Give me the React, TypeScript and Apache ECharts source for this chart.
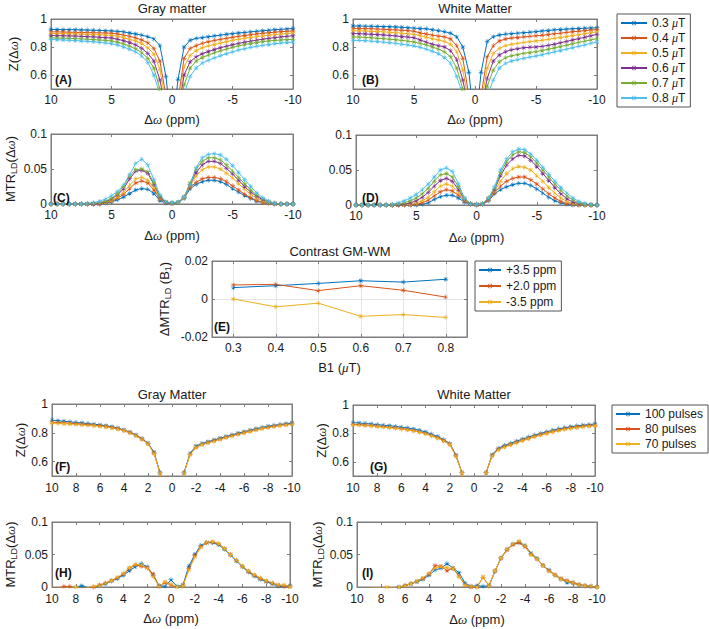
import React, { useEffect, useRef } from 'react';
import * as echarts from 'echarts';

// Frequency offsets (ppm)
const X = [10, 9.5, 9, 8.5, 8, 7.5, 7, 6.5, 6, 5.5, 5, 4.5, 4, 3.5, 3, 2.5, 2, 1.5, 1, 0.5, 0, -0.5, -1, -1.5, -2, -2.5, -3, -3.5, -4, -4.5, -5, -5.5, -6, -6.5, -7, -7.5, -8, -8.5, -9, -9.5, -10];

const B1_NAMES = ['0.3 μT', '0.4 μT', '0.5 μT', '0.6 μT', '0.7 μT', '0.8 μT'];
const PULSE_NAMES = ['100 pulses', '80 pulses', '70 pulses'];
const E_NAMES = ['+3.5 ppm', '+2.0 ppm', '-3.5 ppm'];
const B1 = [0.3, 0.4, 0.5, 0.6, 0.7, 0.8];

// (A) Gray matter Z
const A_03 = [.925,.925,.924,.924,.923,.922,.921,.92,.919,.917,.915, .912,.908,.90,.893,.885,.874,.858,.81,.59, .2, .57,.80,.848,.862,.867,.873,.879,.885,.891,.896,.90,.904,.908,.912,.916,.92,.923,.926,.929,.932];
const A_04 = [.908,.908,.907,.906,.905,.904,.903,.902,.901,.90,.898, .893,.885,.876,.865,.85,.83,.79,.70,.45, .2, .42,.72,.79,.81,.826,.838,.847,.855,.862,.87,.876,.882,.888,.893,.898,.902,.906,.909,.912,.915];
const A_05 = [.896,.896,.895,.894,.893,.892,.891,.889,.887,.885,.883, .876,.866,.855,.843,.825,.795,.75,.64,.40, .2, .38,.66,.74,.775,.795,.808,.818,.828,.838,.848,.856,.862,.868,.874,.879,.884,.888,.892,.896,.90];
const A_06 = [.882,.881,.88,.879,.878,.876,.874,.872,.87,.867,.864, .856,.845,.832,.815,.79,.755,.70,.565,.35, .2, .33,.60,.695,.73,.752,.768,.782,.795,.806,.816,.826,.834,.842,.849,.856,.862,.867,.872,.876,.88];
const A_07 = [.865,.864,.863,.862,.86,.858,.856,.853,.85,.847,.843, .834,.822,.806,.787,.76,.72,.65,.50,.32, .2, .30,.53,.65,.70,.725,.742,.758,.772,.785,.797,.808,.817,.825,.832,.838,.843,.847,.85,.853,.855];
const A_08 = [.853,.852,.85,.848,.846,.843,.84,.837,.833,.829,.824, .814,.80,.784,.765,.735,.69,.60,.46,.3, .2, .28,.47,.59,.65,.685,.705,.722,.738,.752,.765,.778,.788,.797,.805,.812,.818,.823,.828,.832,.836];

// (B) White matter Z
const B_03 = [.95,.95,.949,.948,.947,.946,.945,.943,.941,.938,.935, .932,.93,.923,.917,.91,.898,.874,.80,.62, .2, .62,.84,.874,.886,.892,.896,.899,.902,.906,.91,.914,.918,.922,.925,.928,.93,.932,.934,.936,.937];
const B_04 = [.933,.932,.931,.93,.928,.926,.924,.922,.92,.917,.913, .90,.893,.885,.878,.872,.857,.81,.72,.45, .2, .45,.73,.81,.843,.857,.864,.868,.872,.876,.88,.884,.889,.894,.899,.904,.909,.913,.917,.921,.925];
const B_05 = [.916,.915,.914,.912,.91,.908,.905,.902,.898,.894,.89, .88,.87,.86,.85,.84,.82,.767,.636,.40, .2, .40,.65,.755,.79,.81,.82,.826,.833,.838,.843,.848,.855,.862,.868,.875,.882,.888,.895,.902,.908];
const B_06 = [.896,.895,.893,.891,.889,.886,.883,.879,.875,.871,.867, .85,.835,.82,.81,.80,.774,.71,.565,.35, .2, .35,.576,.70,.743,.767,.78,.788,.795,.798,.80,.805,.812,.82,.83,.84,.85,.86,.87,.88,.89];
const B_07 = [.872,.871,.869,.866,.863,.86,.856,.852,.847,.842,.836, .826,.815,.80,.785,.765,.73,.65,.50,.32, .2, .32,.52,.636,.695,.724,.738,.746,.755,.761,.767,.775,.784,.793,.803,.813,.823,.833,.842,.851,.86];
const B_08 = [.848,.847,.845,.842,.839,.835,.831,.826,.82,.814,.807, .798,.785,.77,.752,.725,.683,.59,.46,.3, .2, .28,.45,.565,.65,.683,.70,.71,.72,.728,.736,.745,.755,.765,.775,.785,.795,.805,.815,.826,.836];

// (C) Gray matter MTR_LD
const C_03 = [0,0,0,0,0,0,0,0,0, .001,.003,.006,.01,.015,.02,.022,.021,.015,.005,.001, .001, .002,.008,.022,.028,.032,.034,.034,.032,.028,.022,.017,.012,.008,.004,.002,.001,0,0,0,0];
const C_04 = [0,0,0,0,0,0,0,0,0, .002,.004,.008,.014,.022,.03,.033,.03,.02,.007,.002, .001, .002,.009,.024,.031,.036,.038,.038,.036,.032,.026,.02,.014,.009,.005,.002,.001,0,0,0,0];
const C_05 = [0,0,0,0,0,0,0,0,.001, .002,.005,.01,.017,.027,.036,.038,.034,.023,.008,.002, .001, .002,.009,.026,.04,.049,.053,.053,.05,.044,.037,.029,.021,.014,.008,.004,.002,.001,0,0,0];
const C_06 = [0,0,0,0,0,0,0,0,.001, .003,.007,.013,.022,.036,.047,.048,.044,.028,.01,.002, .001, .002,.01,.028,.045,.056,.061,.061,.058,.051,.043,.034,.025,.017,.011,.006,.003,.001,0,0,0];
const C_07 = [0,0,0,0,0,0,0,.001,.002, .004,.008,.015,.025,.04,.049,.05,.046,.03,.011,.003, .001, .002,.01,.03,.05,.061,.066,.066,.063,.056,.047,.038,.029,.02,.013,.007,.003,.001,0,0,0];
const C_08 = [0,0,0,0,0,0,.001,.002,.004, .007,.012,.018,.027,.042,.058,.064,.056,.035,.013,.003, .002, .003,.01,.028,.052,.066,.071,.072,.07,.064,.055,.045,.035,.025,.016,.009,.004,.001,0,0,0];

// (D) White matter MTR_LD
const D_03 = [0,0,0,0,0,0,0,0,0,0,0, .001,.003,.008,.012,.014,.014,.01,.004,.001, 0, .001,.006,.016,.022,.026,.029,.031,.031,.028,.023,.017,.011,.006,.003,.001,0,0,0,0,0];
const D_04 = [0,0,0,0,0,0,0,0,0,0,.001, .003,.007,.013,.019,.022,.02,.014,.006,.001, 0, .001,.007,.018,.027,.034,.038,.04,.04,.036,.03,.023,.016,.01,.005,.002,.001,0,0,0,0];
const D_05 = [0,0,0,0,0,0,0,0,0,.001,.003, .006,.011,.019,.027,.03,.027,.018,.007,.002, .001, .002,.008,.02,.034,.045,.052,.055,.054,.05,.042,.034,.025,.017,.01,.005,.002,.001,0,0,0];
const D_06 = [0,0,0,0,0,0,0,0,.001,.003,.006, .011,.018,.027,.035,.038,.034,.022,.008,.002, .001, .002,.009,.022,.042,.057,.066,.071,.07,.064,.055,.045,.035,.025,.016,.009,.004,.002,.001,0,0];
const D_07 = [0,0,0,0,0,0,0,.001,.003,.006,.01, .016,.024,.034,.043,.045,.04,.026,.009,.002, .001, .002,.01,.024,.046,.062,.072,.076,.075,.069,.06,.05,.04,.03,.021,.013,.007,.003,.001,0,0];
const D_08 = [0,0,0,0,0,0,.001,.003,.006,.01,.015, .022,.03,.04,.05,.053,.048,.03,.01,.002, .001, .002,.01,.026,.05,.066,.076,.08,.079,.073,.064,.054,.044,.034,.025,.017,.01,.005,.002,.001,0];

// (E) Contrast GM-WM
const E_P35 = [.006, .007, .0082, .0096, .0089, .0104];
const E_P20 = [.0074, .0077, .0044, .007, .0046, .001];
const E_M35 = [0, -.0041, -.0022, -.0091, -.0082, -.0097];

// (F) Gray matter Z, pulses
const F_100 = [.888,.884,.88,.876,.872,.868,.864,.86,.855,.849,.842, .832,.82,.805,.785,.76,.728,.665,.524,.3, .2, .3,.524,.657,.708,.726,.738,.75,.762,.774,.786,.797,.808,.818,.828,.838,.846,.852,.858,.863,.868];
const F_80 = [.874,.872,.869,.866,.863,.86,.857,.853,.849,.844,.837, .828,.817,.802,.782,.757,.725,.66,.52,.3, .2, .3,.52,.65,.70,.72,.733,.745,.757,.769,.78,.792,.802,.812,.822,.831,.839,.846,.852,.857,.862];
const F_70 = [.866,.865,.863,.861,.858,.855,.852,.849,.845,.84,.834, .825,.814,.799,.779,.754,.722,.655,.52,.3, .2, .3,.52,.648,.698,.717,.73,.742,.754,.766,.777,.789,.799,.809,.819,.828,.836,.843,.849,.854,.859];

// (G) White matter Z, pulses
const G_100 = [.876,.873,.87,.866,.862,.858,.854,.849,.844,.838,.831, .822,.81,.795,.778,.756,.728,.648,.524,.3, .2, .3,.524,.65,.695,.715,.73,.745,.76,.774,.788,.8,.811,.822,.832,.84,.847,.853,.858,.862,.866];
const G_80 = [.864,.862,.859,.856,.852,.848,.844,.839,.834,.828,.821, .812,.8,.786,.77,.75,.725,.645,.524,.3, .2, .3,.524,.645,.688,.707,.722,.737,.752,.766,.78,.792,.803,.814,.824,.832,.839,.845,.85,.854,.858];
const G_70 = [.86,.858,.855,.852,.848,.844,.84,.835,.83,.824,.817, .808,.796,.782,.766,.746,.72,.64,.524,.3, .2, .3,.524,.64,.684,.703,.718,.733,.748,.762,.776,.788,.799,.81,.82,.828,.835,.841,.846,.85,.854];

// (H) Gray matter MTR_LD, pulses
const H_100 = [-.003,-.003,-.002,-.002,-.001,.002,-.001,-.001,.002,.005,.009, .013,.018,.025,.031,.036,.031,.018,.002,.001, .011, .001,.003,.032,.05,.064,.068,.068,.065,.058,.049,.04,.031,.023,.017,.012,.008,.005,.001,.001,.002];
const H_80 = [-.002,-.002,.001,.001,-.001,-.002,-.001,0,.003,.006,.01, .014,.02,.028,.034,.032,.03,.02,.001,.007, .003, -.001,.002,.028,.048,.062,.068,.069,.066,.059,.05,.041,.032,.024,.018,.013,.009,.006,.003,.001,.001];
const H_70 = [-.003,-.002,-.001,-.001,0,-.002,-.001,.001,.002,.006,.01, .015,.021,.03,.035,.034,.029,.016,.001,.008, .004, 0,.002,.026,.046,.061,.069,.07,.067,.059,.05,.041,.032,.025,.019,.014,.01,.006,.003,.003,0];

// (I) White matter MTR_LD, pulses
const I_100 = [-.003,-.003,-.002,-.002,-.002,-.001,-.001,0,.002,.005,.008, .012,.018,.026,.029,.036,.029,.022,.006,.001, .002, .001,.002,.024,.045,.058,.066,.069,.064,.052,.044,.033,.026,.018,.012,.007,.006,.003,.002,.001,0];
const I_80 = [-.003,-.003,-.002,-.002,-.002,-.002,-.001,-.001,.002,.005,.009, .013,.02,.033,.032,.025,.029,.017,.003,0, 0, .015,.002,.025,.044,.057,.065,.068,.062,.05,.043,.033,.025,.019,.013,.01,.007,.004,.002,.001,0];
const I_70 = [-.003,-.002,-.002,-.001,-.001,0,-.001,0,.002,.005,.009, .014,.021,.029,.031,.03,.028,.016,.003,.001, 0, .015,.002,.025,.045,.058,.066,.071,.063,.05,.043,.033,.024,.018,.012,.009,.006,.003,.002,.001,0];

const COLORS = ['#0072BD', '#D95319', '#EDB120', '#7E2F8E', '#77AC30', '#4DBEEE'];
const FONT = '"Liberation Sans", Arial, Helvetica, sans-serif';
const SERIF = '"Liberation Serif", "DejaVu Serif", serif';
const AXIS_COLOR = '#7d7d7d';
const TEXT_COLOR = '#1a1a1a';
const STAR =
  'path://M-1,-0.09L1,-0.09L1,0.09L-1,0.09Z' +
  'M-0.09,-1L0.09,-1L0.09,1L-0.09,1Z' +
  'M-0.77,-0.64L-0.64,-0.77L0.77,0.64L0.64,0.77Z' +
  'M0.77,-0.64L-0.64,0.77L-0.77,0.64L0.64,-0.77Z';

const RICH: any = {
  n: { fontSize: 13, fontFamily: FONT, color: TEXT_COLOR, lineHeight: 16, verticalAlign: 'middle' },
  i: { fontSize: 13, fontFamily: SERIF, fontStyle: 'italic', color: TEXT_COLOR, lineHeight: 16, verticalAlign: 'middle' },
  s: { fontSize: 9, fontFamily: FONT, color: TEXT_COLOR, lineHeight: 8, verticalAlign: 'bottom' },
};

const DW = '{n|Δ}{i|ω}{n| (ppm)}';
const ZDW = '{n|Z(Δ}{i|ω}{n|)}';
const MTR = '{n|MTR}{s|LD}{n|(Δ}{i|ω}{n|)}';
const EY = '{n|ΔMTR}{s|LD}{n| (B}{s|1}{n|)}';
const EX = '{n|B1 (}{i|μ}{n|T)}';

function buildOption() {
  const opt: any = {
    animation: false,
    backgroundColor: '#ffffff',
    textStyle: { fontFamily: FONT },
    grid: [],
    xAxis: [],
    yAxis: [],
    series: [],
  };
  const line = { show: true, onZero: false, lineStyle: { color: AXIS_COLOR, width: 1 } };
  const tick = { show: true, inside: true, length: 3, lineStyle: { color: AXIS_COLOR, width: 1 } };

  function addPanel(rect: number[], x: any, y: any) {
    const gi = opt.grid.length;
    opt.grid.push({
      left: rect[0], top: rect[1], width: rect[2], height: rect[3],
      show: true, borderColor: AXIS_COLOR, borderWidth: 1, containLabel: false,
    });
    const xi = opt.xAxis.length;
    const xBase = { type: 'value', gridIndex: gi, min: x.min, max: x.max, interval: x.interval, inverse: !!x.inverse };
    opt.xAxis.push({
      ...xBase, position: 'bottom', axisLine: line, axisTick: tick,
      splitLine: { show: !!x.split, lineStyle: { color: '#e4e4e4', width: 1 } },
      axisLabel: { color: TEXT_COLOR, fontSize: 12, margin: x.margin ?? 5, fontFamily: FONT, showMinLabel: x.showMin ?? true, showMaxLabel: x.showMax ?? true },
      name: x.name, nameLocation: 'middle', nameGap: x.nameGap ?? 22, nameTextStyle: { rich: RICH },
    });
    opt.xAxis.push({ ...xBase, position: 'top', axisLine: line, axisTick: tick, axisLabel: { show: false }, splitLine: { show: false } });
    const yi = opt.yAxis.length;
    const yBase = { type: 'value', gridIndex: gi, min: y.min, max: y.max, interval: y.interval };
    const yTick: any = { ...tick };
    const yLabel: any = { color: TEXT_COLOR, fontSize: 12, margin: 4, fontFamily: FONT };
    if (y.custom) { yTick.customValues = y.custom; yLabel.customValues = y.custom; }
    opt.yAxis.push({
      ...yBase, position: 'left', axisLine: line, axisTick: yTick,
      splitLine: { show: !!y.split, lineStyle: { color: '#e4e4e4', width: 1 } },
      axisLabel: yLabel,
      name: y.name, nameLocation: 'middle', nameGap: y.nameGap ?? 30, nameTextStyle: { rich: RICH },
    });
    const yTick2: any = { ...tick };
    if (y.custom) yTick2.customValues = y.custom;
    opt.yAxis.push({ ...yBase, position: 'right', axisLine: line, axisTick: yTick2, axisLabel: { show: false }, splitLine: { show: false } });
    return { xi, yi };
  }

  function addLines(ax: { xi: number; yi: number }, xs: number[], sets: number[][], names: string[], colors: string[]) {
    sets.forEach((vals, k) => {
      opt.series.push({
        type: 'line', name: names[k], xAxisIndex: ax.xi, yAxisIndex: ax.yi,
        data: xs.map((xv, i) => [xv, vals[i]]),
        symbol: STAR, symbolSize: 5, showSymbol: true, clip: true,
        lineStyle: { color: colors[k], width: 1 }, itemStyle: { color: colors[k] },
        emphasis: { disabled: true },
      });
    });
  }

  const zY = { min: 0.5, max: 1, custom: [0.6, 0.8, 1] };
  const mY = { min: 0, max: 0.1, interval: 0.05 };
  const x5 = { min: -10, max: 10, interval: 5, inverse: true };
  const x2 = { min: -10, max: 10, interval: 2, inverse: true };

  const pA = addPanel([51, 19, 242, 70], { ...x5, name: DW, nameGap: 22 }, { ...zY, name: ZDW, nameGap: 30 });
  addLines(pA, X, [A_03, A_04, A_05, A_06, A_07, A_08], B1_NAMES, COLORS);
  const pB = addPanel([353, 19, 244, 70], { ...x5, name: DW, nameGap: 22 }, { ...zY });
  addLines(pB, X, [B_03, B_04, B_05, B_06, B_07, B_08], B1_NAMES, COLORS);
  const pC = addPanel([51, 134, 242, 70], { ...x5, name: DW, nameGap: 23 }, { ...mY, name: MTR, nameGap: 33 });
  addLines(pC, X, [C_03, C_04, C_05, C_06, C_07, C_08], B1_NAMES, COLORS);
  const pD = addPanel([356, 135, 241, 70], { ...x5, name: DW, nameGap: 24 }, { ...mY });
  addLines(pD, X, [D_03, D_04, D_05, D_06, D_07, D_08], B1_NAMES, COLORS);
  const pE = addPanel([212, 261, 255, 76],
    { min: 0.25, max: 0.85, name: EX, nameGap: 22, split: true, showMin: false, showMax: false },
    { min: -0.02, max: 0.02, interval: 0.02, name: EY, nameGap: 40, split: true });
  addLines(pE, B1, [E_P35, E_P20, E_M35], E_NAMES, COLORS.slice(0, 3));
  const pF = addPanel([52, 404, 240, 72], { ...x2, margin: 6 }, { ...zY, name: ZDW, nameGap: 23 });
  addLines(pF, X, [F_100, F_80, F_70], PULSE_NAMES, COLORS.slice(0, 3));
  const pG = addPanel([353, 405, 242, 71], { ...x2, margin: 6 }, { ...zY, name: ZDW, nameGap: 24 });
  addLines(pG, X, [G_100, G_80, G_70], PULSE_NAMES, COLORS.slice(0, 3));
  const pH = addPanel([52, 522, 238, 65], { ...x2, name: DW, nameGap: 23, margin: 6 }, { ...mY, name: MTR, nameGap: 34 });
  addLines(pH, X, [H_100, H_80, H_70], PULSE_NAMES, COLORS.slice(0, 3));
  const pI = addPanel([357, 522, 240, 65], { ...x2, name: DW, nameGap: 24, margin: 6 }, { ...mY, name: MTR, nameGap: 30 });
  addLines(pI, X, [I_100, I_80, I_70], PULSE_NAMES, COLORS.slice(0, 3));

  const legendBase = {
    orient: 'vertical', selectedMode: false, backgroundColor: '#ffffff',
    borderColor: '#555555', borderWidth: 1, borderRadius: 0, padding: [3, 5, 3, 3],
    itemWidth: 26, itemHeight: 7, itemGap: 3,
    textStyle: { fontSize: 12, color: TEXT_COLOR, fontFamily: FONT, rich: { i: { fontSize: 12, fontFamily: SERIF, fontStyle: 'italic', color: TEXT_COLOR } } },
  };
  opt.legend = [
    { ...legendBase, left: 617, top: 14, data: B1_NAMES, formatter: (n: string) => n.replace('μ', '{i|μ}') },
    { ...legendBase, left: 475, top: 261, itemWidth: 22, itemGap: 4, data: E_NAMES },
    { ...legendBase, left: 612, top: 405, itemWidth: 24, data: PULSE_NAMES },
  ];

  const title = (text: string, x: number, y: number) => ({
    type: 'text', x, y, silent: true,
    style: { text, fontSize: 13, fontFamily: FONT, fill: TEXT_COLOR, align: 'center', verticalAlign: 'middle', textAlign: 'center', textVerticalAlign: 'middle' },
  });
  const tag = (text: string, x: number, y: number) => ({
    type: 'text', x, y, silent: true, z: 100,
    style: { text, fontSize: 12, fontWeight: 'bold', fontFamily: FONT, fill: '#111', align: 'left', verticalAlign: 'middle', textAlign: 'left', textVerticalAlign: 'middle' },
  });
  opt.graphic = [
    title('Gray matter', 172, 8),
    title('White Matter', 475, 8),
    title('Contrast GM-WM', 340, 251),
    title('Gray Matter', 172, 394),
    title('White Matter', 474, 394),
    tag('(A)', 55, 80), tag('(B)', 362, 80), tag('(C)', 53, 198), tag('(D)', 362, 198),
    tag('(E)', 214, 327), tag('(F)', 55, 467), tag('(G)', 370, 467), tag('(H)', 55, 573), tag('(I)', 362, 573),
  ];
  return opt;
}

export default function App() {
  const ref = useRef<HTMLDivElement>(null);
  useEffect(() => {
    if (!ref.current) return;
    const chart = echarts.init(ref.current, null, { renderer: 'svg' });
    chart.setOption(buildOption());
    return () => chart.dispose();
  }, []);
  return <div ref={ref} style={{ position: 'fixed', left: 0, top: 0, width: 709, height: 629, background: '#fff' }} />;
}
